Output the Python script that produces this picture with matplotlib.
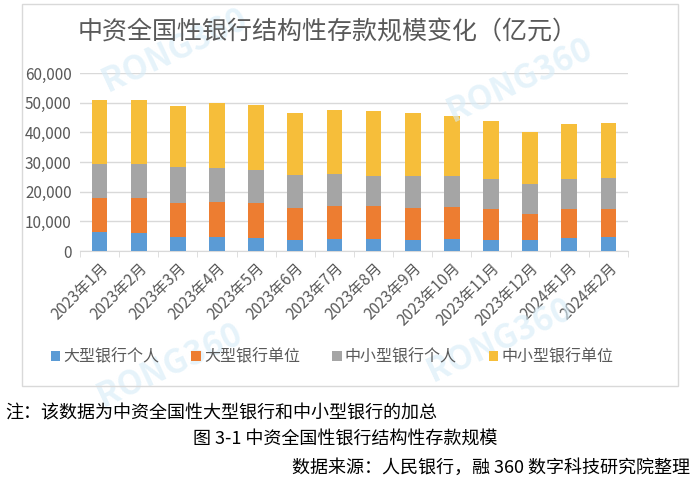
import numpy as np
import matplotlib.pyplot as plt
from matplotlib.patches import Rectangle

plt.rcParams['font.family'] = ['Noto Sans CJK SC', 'DejaVu Sans']

months = ['2023年1月', '2023年2月', '2023年3月', '2023年4月', '2023年5月', '2023年6月', '2023年7月',
          '2023年8月', '2023年9月', '2023年10月', '2023年11月', '2023年12月', '2024年1月', '2024年2月']
big_personal = [6300, 5900, 4600, 4800, 4500, 3800, 3900, 3900, 3700, 3900, 3600, 3600, 4500, 4700]
big_unit = [11500, 11900, 11700, 11800, 11600, 10800, 11400, 11300, 10900, 11000, 10700, 8800, 9800, 9600]
small_personal = [11500, 11600, 11900, 11300, 11200, 11000, 10500, 10200, 10700, 10300, 9900, 10200, 9900, 10200]
small_unit = [21500, 21600, 20800, 22100, 22000, 20900, 21700, 21800, 21100, 20400, 19600, 17600, 18600, 18500]

series = [('大型银行个人', big_personal, '#5B9BD5'),
          ('大型银行单位', big_unit, '#ED7D31'),
          ('中小型银行个人', small_personal, '#A5A5A5'),
          ('中小型银行单位', small_unit, '#F6BE3A')]

fig = plt.figure(figsize=(7, 4.97), dpi=100)
# chart frame
fig.patches.append(Rectangle((22 / 700, 1 - 386 / 497), 656 / 700, 382 / 497, transform=fig.transFigure,
                             fill=False, edgecolor='#D9D9D9', linewidth=1))

ax = fig.add_axes([80 / 700, 1 - 251 / 497, 548 / 700, 178 / 497])
x = np.arange(len(months))
bottom = np.zeros(len(months))
for name, vals, color in series:
    ax.bar(x, vals, 0.4, bottom=bottom, color=color, label=name, zorder=3)
    bottom += np.array(vals)

ax.set_xlim(-0.5, len(months) - 0.5)
ax.set_ylim(0, 60000)
ax.set_yticks(range(0, 60001, 10000))
ax.set_yticklabels([f'{v:,}' for v in range(0, 60001, 10000)], fontsize=11, color='#595959')
ax.grid(axis='y', color='#D9D9D9', linewidth=1, zorder=0)
ax.set_xticks(x)
ax.set_xticklabels(months, rotation=45, ha='right', rotation_mode='anchor', fontsize=11, color='#595959')
ax.set_xticks(np.arange(-0.5, len(months)), minor=True)
ax.tick_params(axis='x', which='major', length=0, pad=6)
ax.tick_params(axis='x', which='minor', length=4, color='#D9D9D9')
ax.tick_params(axis='y', length=0, pad=6)
for s in ['top', 'right', 'left']:
    ax.spines[s].set_visible(False)
ax.spines['bottom'].set_color('#D9D9D9')

fig.text(328 / 700, 1 - 33 / 497, '中资全国性银行结构性存款规模变化（亿元）', fontsize=18, color='#595959',
         ha='center', va='center')

fig.legend(loc='center', bbox_to_anchor=(332 / 700, 1 - 357 / 497), ncol=4, frameon=False,
           fontsize=11.5, handlelength=0.6, handleheight=0.6, handletextpad=0.2, columnspacing=2.0,
           labelcolor='#595959')

# watermarks
for wx, wy in [(175, 50), (520, 80), (170, 365), (500, 340)]:
    fig.text(wx / 700, 1 - wy / 497, 'RONG360', fontsize=24, color='#D6ECF8', alpha=0.6,
             rotation=25, ha='center', va='center', fontweight='bold', zorder=0)

fig.text(5 / 700, 1 - 413 / 497, '注：该数据为中资全国性大型银行和中小型银行的加总', fontsize=13, color='black',
         ha='left', va='center')
fig.text(345 / 700, 1 - 440 / 497, '图 3-1 中资全国性银行结构性存款规模', fontsize=13, color='black',
         ha='center', va='center')
fig.text(690 / 700, 1 - 468 / 497, '数据来源：人民银行，融 360 数字科技研究院整理', fontsize=13, color='black',
         ha='right', va='center')

fig.savefig('out.png', dpi=100)
